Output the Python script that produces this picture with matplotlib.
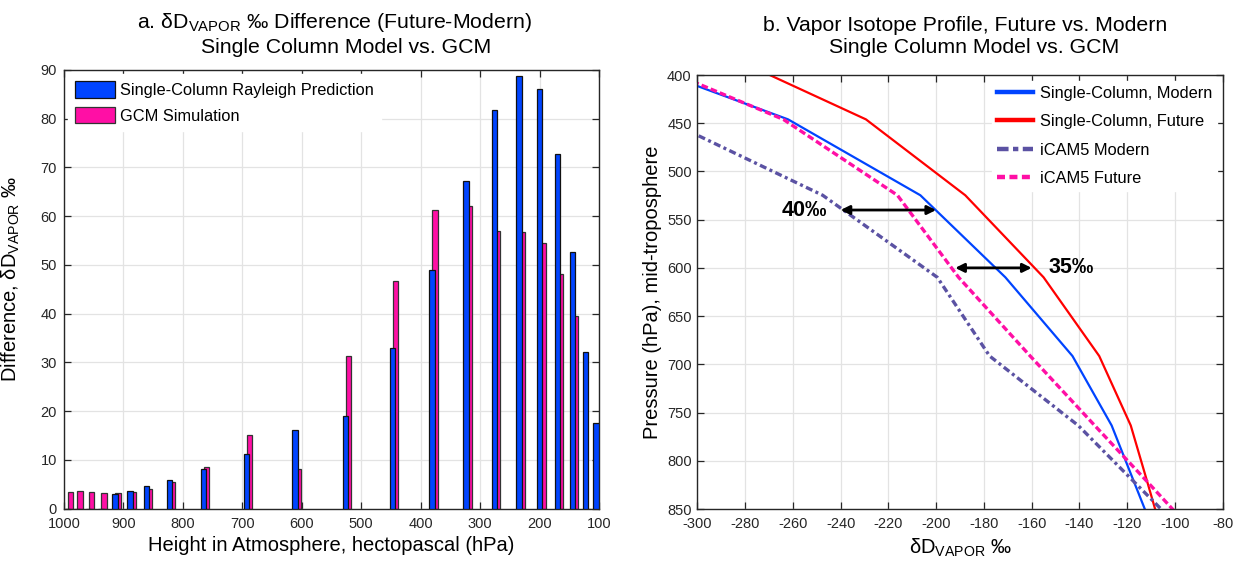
import matplotlib
matplotlib.use("Agg")
import matplotlib.pyplot as plt
from matplotlib.patches import Patch
from matplotlib.lines import Line2D

plt.rcParams['font.family'] = ['Liberation Sans', 'DejaVu Sans']
plt.rcParams['mathtext.fontset'] = 'custom'
plt.rcParams['mathtext.rm'] = 'Liberation Sans'
plt.rcParams['axes.unicode_minus'] = False

# ---------------- Data: panel a ----------------
levels = [992.56, 976.33, 957.49, 936.20, 912.64, 887.02, 859.53, 820.86,
          763.40, 691.39, 609.78, 524.69, 445.99, 379.10, 322.24, 273.91,
          232.83, 197.91, 168.23, 142.99, 121.55, 103.32]
sc_diff = [0, 0, 0, 0, 2.9, 3.6, 4.6, 5.8, 8.2, 11.2, 16.2, 18.9, 32.9,
           49.0, 67.2, 81.8, 88.8, 86.0, 72.8, 52.6, 32.2, 17.5]
gcm_diff = [3.4, 3.5, 3.4, 3.1, 3.1, 3.35, 3.9, 5.5, 8.6, 15.0, 8.1, 31.4,
            46.7, 61.2, 62.1, 56.9, 56.7, 54.5, 48.2, 39.5, 0, 0]
xticks_a = [1000, 900, 800, 700, 600, 500, 400, 300, 200, 100]
yticks_a = [0, 10, 20, 30, 40, 50, 60, 70, 80, 90]

# ---------------- Data: panel b ----------------
prof_levels = [379.10, 445.99, 524.69, 609.78, 691.39, 763.40, 820.86, 859.53]
sc_modern = [-335.5, -262.0, -206.6, -171.0, -142.9, -126.5, -117.3, -111.1]
sc_future = [-288.0, -229.4, -187.8, -155.0, -131.7, -118.5, -111.7, -107.2]
icam_modern = [-370.0, -313.8, -247.5, -199.5, -177.6, -140.5, -117.5, -102.0]
icam_future = [-328.6, -264.0, -216.2, -190.6, -160.6, -133.6, -111.9, -97.5]
xticks_b = list(range(-300, -79, 20))
yticks_b = list(range(400, 851, 50))

BLUE = '#0044ff'
MAG = '#ff0fa5'
RED = '#ff0000'
PURP = '#5b52a3'
AXC = '#262626'
GRID = '#e3e3e3'

DASH_PURP = (0, (2.1, 1.05, 0.9, 1.05))
DASH_MAG = (0, (2.0, 0.95))

fig = plt.figure(figsize=(12.4, 5.62), dpi=100)
W, H = 1240.0, 562.0

def style(ax, ypad):
    ax.grid(True, color=GRID, lw=0.9)
    ax.set_axisbelow(True)
    for s in ax.spines.values():
        s.set_color(AXC)
        s.set_linewidth(1.0)
    ax.tick_params(direction='in', length=5, width=0.9, colors=AXC,
                   labelsize=10.5, top=True, right=True, labelcolor=AXC)
    ax.tick_params(axis='x', pad=6)
    ax.tick_params(axis='y', pad=ypad)

# ---------------- Panel a ----------------
ax1 = fig.add_axes([64 / W, 1 - 508.5 / H, 535 / W, 438.5 / H])
bw = 9.0
ax1.bar([p - 3.5 for p in levels], gcm_diff, width=bw, color=MAG,
        edgecolor='#333333', linewidth=0.9, zorder=2)
ax1.bar([p + 1.7 for p in levels], sc_diff, width=bw, color=BLUE,
        edgecolor='#111111', linewidth=0.9, zorder=3)
ax1.set_xlim(1000, 100)
ax1.set_ylim(0, 90)
ax1.set_xticks(xticks_a)
ax1.set_yticks(yticks_a)
style(ax1, 5)
ax1.set_xlabel('Height in Atmosphere, hectopascal (hPa)', fontsize=14.5,
               labelpad=4)
ax1.set_ylabel(r'Difference, δD$_{\mathregular{VAPOR}}$ ‰', fontsize=14.5)
ax1.yaxis.set_label_coords(-0.079, 0.523)
h1 = [Patch(facecolor=BLUE, edgecolor='#111111', lw=0.9),
      Patch(facecolor=MAG, edgecolor='#333333', lw=0.9)]
ax1.legend(h1, ['Single-Column Rayleigh Prediction', 'GCM Simulation'],
           loc='upper left', fontsize=11.8, frameon=True,
           facecolor='white', edgecolor='white', framealpha=1,
           fancybox=False, handlelength=2.4, handleheight=1.15,
           handletextpad=0.3, labelspacing=0.55, borderpad=0.45,
           borderaxespad=0.25)

fig.text(334 / W, 1 - 28.3 / H,
         r'a. δD$_{\mathregular{VAPOR}}$ ‰ Difference (Future-Modern)',
         ha='center', va='baseline', fontsize=15.3)
fig.text(346 / W, 1 - 53.3 / H, 'Single Column Model vs. GCM',
         ha='center', va='baseline', fontsize=15.3)

# ---------------- Panel b ----------------
ax2 = fig.add_axes([697.3 / W, 1 - 509 / H, 525.4 / W, 434 / H])
ax2.plot(sc_modern, prof_levels, color=BLUE, lw=1.6)
ax2.plot(sc_future, prof_levels, color=RED, lw=1.6)
ax2.plot(icam_modern, prof_levels, color=PURP, lw=2.4, ls=DASH_PURP)
ax2.plot(icam_future, prof_levels, color=MAG, lw=2.4, ls=DASH_MAG)
ax2.set_xlim(-300, -80)
ax2.set_ylim(850, 400)
ax2.set_xticks(xticks_b)
ax2.set_yticks(yticks_b)
style(ax2, 4)
ax2.set_xlabel(r'δD$_{\mathregular{VAPOR}}$ ‰', fontsize=14.5, labelpad=4)
ax2.set_ylabel('Pressure (hPa), mid-troposphere', fontsize=14.5, labelpad=4)

h2 = [Line2D([], [], color=BLUE, lw=3.2),
      Line2D([], [], color=RED, lw=3.2),
      Line2D([], [], color=PURP, lw=3.2, ls=(0, (2.6, 1.0, 1.2, 1.0))),
      Line2D([], [], color=MAG, lw=3.2, ls=(0, (1.8, 1.0)))]
ax2.legend(h2, ['Single-Column, Modern', 'Single-Column, Future',
                'iCAM5 Modern', 'iCAM5 Future'],
           loc='upper right', fontsize=11.8, frameon=True, facecolor='white',
           edgecolor='white', framealpha=1, fancybox=False,
           handlelength=2.2, handletextpad=0.4, labelspacing=0.82,
           borderpad=0.3, borderaxespad=0.35)

# annotations
ax2.annotate('', xy=(-240, 540), xytext=(-200, 540),
             arrowprops=dict(arrowstyle='<|-|>', color='k', lw=2,
                             mutation_scale=13, shrinkA=0, shrinkB=0))
ax2.annotate('', xy=(-192, 600), xytext=(-160, 600),
             arrowprops=dict(arrowstyle='<|-|>', color='k', lw=2,
                             mutation_scale=13, shrinkA=0, shrinkB=0))
ax2.text(-245.5, 540, '40‰', ha='right', va='center', fontsize=15.5,
         fontweight='bold')
ax2.text(-153, 600, '35‰', ha='left', va='center', fontsize=15.5,
         fontweight='bold')

fig.text(965 / W, 1 - 31 / H, 'b. Vapor Isotope Profile, Future vs. Modern',
         ha='center', va='baseline', fontsize=15.3)
fig.text(974 / W, 1 - 53.3 / H, 'Single Column Model vs. GCM',
         ha='center', va='baseline', fontsize=15.3)

fig.savefig('out.png', dpi=100)
